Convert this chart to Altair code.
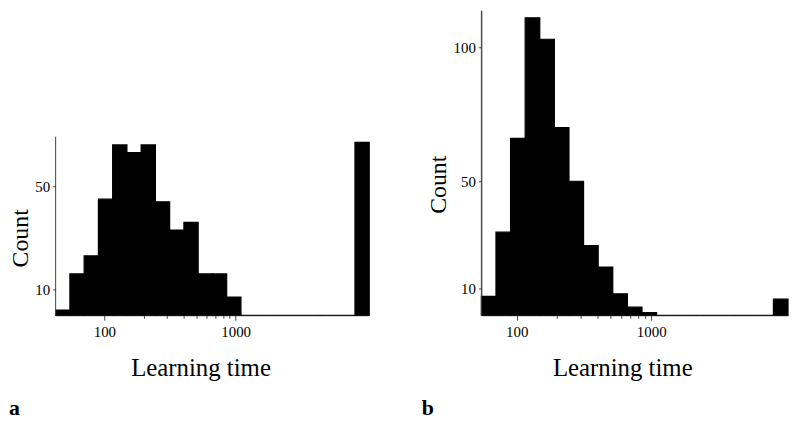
import math
import altair as alt
import pandas as pd

# ---- data (bins of width 0.25 in natural-log units) ----
BIN_LN = 0.25
start_ln_a = 3.75
counts_a = [2, 16, 23, 45, 66, 63, 66, 44, 33, 36, 16, 16, 7,
            0, 0, 0, 0, 0, 0, 0, 0, 67]
start_ln_b = 4.0
counts_b = [7, 31, 66, 111, 103, 70, 50, 26, 18, 8, 3, 1,
            0, 0, 0, 0, 0, 0, 0, 0, 6]
end_ln = 9.25

y_ticks_a = [10, 50]
y_ticks_b = [10, 50, 100]
x_major = [100, 1000]
x_minor = [200, 300, 400, 500, 600, 700, 800, 900]
panel_labels = ["a", "b"]
x_title = "Learning time"
y_title = "Count"

AXIS_COLOR = "#444444"
SERIF = "Liberation Serif"
H = 307


def frame(start, counts):
    return pd.DataFrame({
        "lo": [math.exp(start + i * BIN_LN) for i in range(len(counts))],
        "hi": [math.exp(start + (i + 1) * BIN_LN) for i in range(len(counts))],
        "count": counts,
    })


def panel(df, start, width, ymax, ytop, yticks, ytx, yty, xtx, label, lab_x):
    xscale = alt.Scale(type="log", domain=[math.exp(start), math.exp(end_ln)], nice=False)
    yscale = alt.Scale(domain=[0, ymax], nice=False, zero=True)

    bars = alt.Chart(df).mark_rect(color="black", stroke="black", strokeWidth=1.2).encode(
        x=alt.X("lo:Q", scale=xscale, axis=alt.Axis(
            values=x_major, format="d", orient="bottom",
            title=x_title, titleX=xtx, titleY=61, titleAlign="center",
            titleBaseline="alphabetic", titleFont=SERIF, titleFontSize=25,
            titleFontWeight="normal", titleColor="black",
            tickSize=5, labelPadding=4)),
        x2="hi:Q",
        y=alt.Y("count:Q", scale=yscale, axis=alt.Axis(
            values=yticks, format="d", domain=ymax == ytop,
            title=y_title, titleX=ytx, titleY=yty, titleAngle=270,
            titleAlign="center", titleBaseline="alphabetic",
            titleFont=SERIF, titleFontSize=24, titleFontWeight="normal",
            titleColor="black", tickSize=3, labelPadding=3)),
        y2=alt.datum(0),
    )

    minor = alt.Chart(df).mark_rect(opacity=0).encode(
        x=alt.X("lo:Q", scale=xscale, axis=alt.Axis(
            values=x_minor, labels=False, domain=False, orient="bottom",
            tickSize=3, title="")),
        x2="hi:Q",
    )

    yline = alt.Chart(pd.DataFrame({"y0": [0], "y1": [ytop]})).mark_rule(
        color=AXIS_COLOR, strokeWidth=1).encode(
        x=alt.value(0),
        y=alt.Y("y0:Q", scale=yscale, axis=None),
        y2="y1:Q",
    )

    lab = alt.Chart(pd.DataFrame({"t": [label]})).mark_text(
        font=SERIF, fontSize=22, fontWeight="bold", align="left",
        baseline="alphabetic", color="black").encode(
        text="t:N", x=alt.value(lab_x), y=alt.value(408))

    return alt.layer(bars, minor, yline, lab).resolve_axis(
        x="independent", y="independent").properties(width=width, height=H)


pa = panel(frame(start_ln_a, counts_a), start_ln_a, 316, 118.1, 69.2,
           y_ticks_a, -28.5, 229, 146, panel_labels[0], -47)
pb = panel(frame(start_ln_b, counts_b), start_ln_b, 309, 113.7, 113.7,
           y_ticks_b, -36, 175, 142, panel_labels[1], -60)

chart = alt.hconcat(pa, pb, spacing=52).properties(padding=0).configure_view(
    strokeWidth=0).configure_axis(
    domainColor=AXIS_COLOR, tickColor=AXIS_COLOR, grid=False,
    labelFont=SERIF, labelFontSize=15, labelColor="black",
    domainWidth=1, tickWidth=1)

chart.save("out.html", embed_options={"renderer": "svg", "actions": False})
